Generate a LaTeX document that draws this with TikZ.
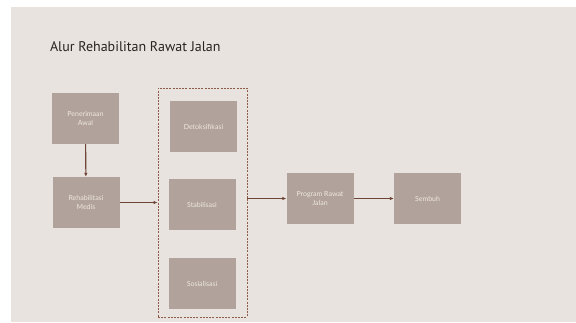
\documentclass[tikz,border=0pt]{standalone}
\usepackage{fontspec}
\setmainfont{Lato}
\newfontfamily\titlefont{PT Sans}
\usetikzlibrary{arrows.meta,positioning}
\definecolor{panelbg}{HTML}{E8E3DF}
\definecolor{stepfill}{HTML}{B1A39B}
\definecolor{steptext}{HTML}{EEE6E1}
\definecolor{flowline}{HTML}{6E4434}
\definecolor{groupline}{HTML}{8E5B47}
\definecolor{titleink}{HTML}{2A2320}
\begin{document}
\begin{tikzpicture}[x=1pt,y=-1pt,>={Latex[length=4pt,width=3.5pt]},
  stepbox/.style={fill=stepfill,text=steptext,minimum width=67pt,minimum height=51pt,
    inner sep=2pt,align=center,font=\fontsize{7}{9}\selectfont},
  flow/.style={->,flowline,line width=1.1pt}]
\useasboundingbox (0,0) rectangle (576,322);
\fill[panelbg] (11,7) rectangle (576,322);
\node[anchor=west,text=titleink,font=\titlefont\fontsize{14}{16}\selectfont] (title) at (46.5,47) {Alur Rehabilitan Rawat Jalan};
% left column
\node[stepbox] (pen) at (85.5,118.5) {Penerimaan\\Awal};
\node[stepbox] (rehab) at (86,202.5) {Rehabilitasi\\Medis};
% grouped stages
\node[draw=groupline,dash pattern=on 2pt off 1.2pt,line width=0.9pt,minimum width=89pt,minimum height=229pt] (grp) at (202.5,202.5) {};
\node[stepbox] (detox) at (203.5,126.5) {Detoksifikasi};
\node[stepbox] (stab) at (202,204.5) {Stabilisasi};
\node[stepbox] (sos) at (202,283.5) {Sosialisasi};
% right side
\node[stepbox] (prog) at (320,198.5) {Program Rawat\\Jalan};
\node[stepbox] (semb) at (427.5,198.5) {Sembuh};
\draw[flow] (pen) -- (rehab);
\draw[flow] (rehab.east) -- (rehab.east -| grp.west);
\draw[flow] (grp.east |- prog.west) -- (prog.west);
\draw[flow] (prog) -- (semb);
\end{tikzpicture}
\end{document}
